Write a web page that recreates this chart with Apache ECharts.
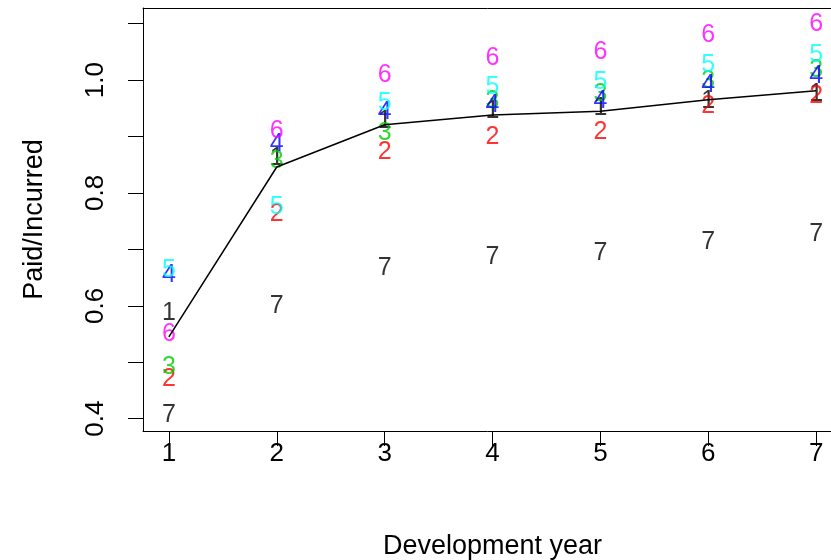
<!DOCTYPE html>
<html>
<head>
<meta charset="utf-8">
<script src="https://cdn.jsdelivr.net/npm/echarts@6/dist/echarts.min.js"></script>
<style>html,body{margin:0;padding:0;background:#fff;}#c{width:831px;height:560px;}</style>
</head>
<body>
<div id="c"></div>
<script>
var years = [1, 2, 3, 4, 5, 6, 7];
var seriesNames = ["1", "2", "3", "4", "5", "6", "7"];
var seriesColors = ["#000000", "#FF0000", "#00CD00", "#0000FF", "#00FFFF", "#FF00FF", "#000000"];
var s1 = [0.587, 0.862, 0.927, 0.945, 0.951, 0.963, 0.976];
var s2 = [0.470, 0.763, 0.873, 0.899, 0.908, 0.954, 0.972];
var s3 = [0.491, 0.857, 0.906, 0.962, 0.975, 0.998, 1.017];
var s4 = [0.655, 0.887, 0.944, 0.956, 0.963, 0.992, 1.007];
var s5 = [0.663, 0.775, 0.959, 0.988, 0.997, 1.027, 1.044];
var s6 = [0.550, 0.910, 1.009, 1.039, 1.050, 1.080, 1.100];
var s7 = [0.406, 0.600, 0.667, 0.686, 0.693, 0.713, 0.727];
var meanLine = [0.545, 0.846, 0.921, 0.938, 0.945, 0.965, 0.981];
var xTicks = [1, 2, 3, 4, 5, 6, 7];
var yTicks = [0.4, 0.5, 0.6, 0.7, 0.8, 0.9, 1.0, 1.1];
var yLabels = [0.4, 0.6, 0.8, 1.0];
var xTitle = "Development year";
var yTitle = "Paid/Incurred";

var allSeries = [s1, s2, s3, s4, s5, s6, s7];
var FONT = "Liberation Sans, Arial, Helvetica, sans-serif";
var X_MIN = 0.76, X_MAX = 7.24, Y_MIN = 0.3782, Y_MAX = 1.1278;

var series = allSeries.map(function (vals, i) {
  return {
    name: seriesNames[i],
    type: 'scatter',
    xAxisIndex: 0,
    symbolSize: 1,
    itemStyle: { color: 'rgba(0,0,0,0)' },
    z: 2 + i,
    label: {
      show: true,
      position: 'inside',
      formatter: seriesNames[i],
      color: seriesColors[i],
      fontFamily: FONT,
      fontSize: 25
    },
    data: years.map(function (x, j) { return [x, vals[j]]; }),
    silent: true
  };
});
series.push({
  type: 'line',
  xAxisIndex: 0,
  data: years.map(function (x, j) { return [x, meanLine[j]]; }),
  showSymbol: false,
  symbol: 'none',
  lineStyle: { color: '#000', width: 1.5 },
  z: 20,
  silent: true
});

var chart = echarts.init(document.getElementById('c'));
chart.setOption({
  animation: false,
  backgroundColor: '#fff',
  grid: { left: 143, top: 8, width: 699, height: 423, show: false, containLabel: false, outerBoundsMode: 'none' },
  xAxis: [{
    type: 'value', min: X_MIN, max: X_MAX, position: 'bottom',
    axisLine: { show: true, onZero: false, lineStyle: { color: '#000', width: 1 } },
    splitLine: { show: false },
    axisTick: { show: true, length: 15, inside: false, customValues: xTicks, lineStyle: { color: '#000', width: 1 } },
    axisLabel: { customValues: xTicks, margin: 10, color: '#000', fontFamily: FONT, fontSize: 26, formatter: function (v) { return String(v); } },
    name: xTitle, nameLocation: 'middle', nameGap: 102,
    nameTextStyle: { color: '#000', fontFamily: FONT, fontSize: 27 }
  }, {
    type: 'value', min: X_MIN, max: X_MAX, position: 'top',
    axisLine: { show: true, onZero: false, lineStyle: { color: '#000', width: 1 } },
    splitLine: { show: false },
    axisTick: { show: false },
    axisLabel: { show: false }
  }],
  yAxis: {
    type: 'value', min: Y_MIN, max: Y_MAX,
    axisLine: { show: true, onZero: false, lineStyle: { color: '#000', width: 1 } },
    splitLine: { show: false },
    axisTick: { show: true, length: 15, inside: false, customValues: yTicks, lineStyle: { color: '#000', width: 1 } },
    axisLabel: { customValues: yLabels, rotate: 90, margin: 34, color: '#000', fontFamily: FONT, fontSize: 26, formatter: function (v) { return v.toFixed(1); } },
    name: yTitle, nameLocation: 'middle', nameGap: 95, nameRotate: 90,
    nameTextStyle: { color: '#000', fontFamily: FONT, fontSize: 27 }
  },
  series: series
});
</script>
</body>
</html>
